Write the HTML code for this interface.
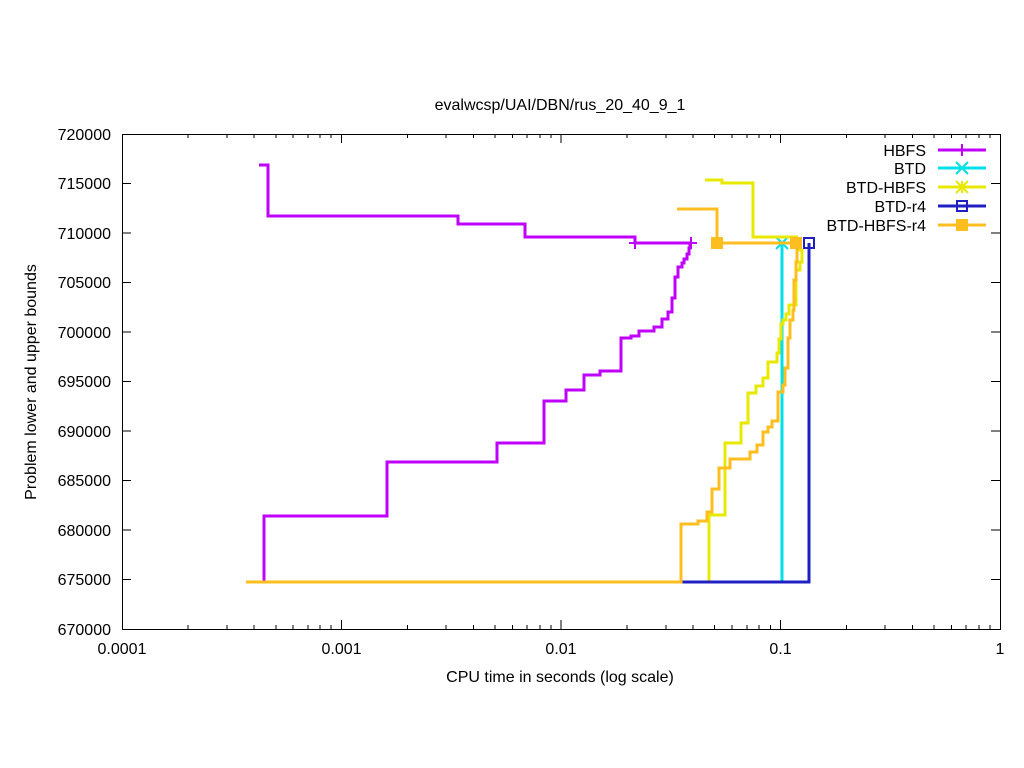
<!DOCTYPE html><html><head><style>body{margin:0;background:#fff}svg{display:block}text{font-family:"Liberation Sans",sans-serif;font-size:16px;fill:#000}</style></head><body>
<svg width="1024" height="768" xmlns="http://www.w3.org/2000/svg">
<rect width="1024" height="768" fill="#fff"/>
<text x="560" y="110" text-anchor="middle">evalwcsp/UAI/DBN/rus_20_40_9_1</text>
<g stroke="#000" stroke-width="1" fill="none">
<rect x="122.5" y="134.5" width="878" height="495"/>
<path d="M122,183.5h9M122,233h9M122,282.5h9M122,332h9M122,381.5h9M122,431h9M122,480.5h9M122,530h9M122,579.5h9M1000,183.5h-9M1000,233h-9M1000,282.5h-9M1000,332h-9M1000,381.5h-9M1000,431h-9M1000,480.5h-9M1000,530h-9M1000,579.5h-9"/>
<path d="M341.5,629v-9M561,629v-9M780.5,629v-9M341.5,134v9M561,134v9M780.5,134v9
M188,629v-4M227,629v-4M254,629v-4M276,629v-4M293,629v-4M308,629v-4M320,629v-4M331,629v-4
M407.5,629v-4M446,629v-4M473.5,629v-4M495,629v-4M512.5,629v-4M527,629v-4M540,629v-4M551,629v-4
M627,629v-4M666,629v-4M693,629v-4M714.5,629v-4M732,629v-4M747,629v-4M759,629v-4M770.5,629v-4
M846.5,629v-4M885,629v-4M912.5,629v-4M934,629v-4M951.5,629v-4M966,629v-4M979,629v-4M990,629v-4
M188,134v4M227,134v4M254,134v4M276,134v4M293,134v4M308,134v4M320,134v4M331,134v4
M407.5,134v4M446,134v4M473.5,134v4M495,134v4M512.5,134v4M527,134v4M540,134v4M551,134v4
M627,134v4M666,134v4M693,134v4M714.5,134v4M732,134v4M747,134v4M759,134v4M770.5,134v4
M846.5,134v4M885,134v4M912.5,134v4M934,134v4M951.5,134v4M966,134v4M979,134v4M990,134v4"/>
</g>
<g text-anchor="end">
<text x="111" y="140">720000</text><text x="111" y="189">715000</text><text x="111" y="239">710000</text><text x="111" y="288">705000</text><text x="111" y="338">700000</text><text x="111" y="387">695000</text><text x="111" y="437">690000</text><text x="111" y="486">685000</text><text x="111" y="536">680000</text><text x="111" y="585">675000</text><text x="111" y="635">670000</text>
</g>
<g text-anchor="middle">
<text x="122" y="654">0.0001</text><text x="341.5" y="654">0.001</text><text x="561" y="654">0.01</text><text x="780.5" y="654">0.1</text><text x="1000" y="654">1</text>
<text x="560" y="682">CPU time in seconds (log scale)</text>
</g>
<text transform="translate(36,382) rotate(-90)" text-anchor="middle">Problem lower and upper bounds</text>
<g fill="none" stroke-width="3">
<path stroke="#c000ff" d="M259,165H268V216H458V224H525V237H635V243H692"/>
<path stroke="#c000ff" d="M264,582V516H387V462H497V443H544V401H566V390H584V375H600V371H621V338H631V336H639V331H654V327H662V319H668V312H672V298H675V277H678V267H682V263H684V259H687V254H689V248H690V243"/>
<path stroke="#c000ff" stroke-width="2" d="M629,243h12M635,237v12M685,243h12M691,237v12"/>
<path stroke="#00e0e8" d="M782,582V243"/>
<path stroke="#00e0e8" stroke-width="2" d="M776,237l12,12M776,249l12,-12"/>
<path stroke="#e8e800" d="M705,180H722V183H753V237H798"/>
<path stroke="#e8e800" d="M709,582V515H725V443H741V423H748V393H756V386H763V378H768V362H777V353H779V339H781V324H783V320H786V314H789V305H796V270H800V262H802V250H800V243"/>
<path stroke="#2020c0" d="M681,582H809V243"/>
<rect x="804" y="238" width="10" height="10" stroke="#2020c0" stroke-width="2"/>
<path stroke="#ffbe20" d="M677,209H717V243H797"/>
<path stroke="#ffbe20" d="M246,582H681V524H698V521H707V512H712V489H719V468H730V459H750V452H757V445H763V432H768V427H772V421H778V392H783V385H785V368H788V338H790V320H793V310H794V280H796V262H797V243"/>
</g>
<rect x="711" y="237" width="12" height="12" fill="#ffbe20"/>
<rect x="790" y="237" width="12" height="12" fill="#ffbe20"/>
<g text-anchor="end">
<text x="926" y="156">HBFS</text><text x="926" y="174">BTD</text><text x="926" y="193">BTD-HBFS</text><text x="926" y="212">BTD-r4</text><text x="926" y="231">BTD-HBFS-r4</text>
</g>
<g fill="none" stroke-width="3">
<path stroke="#c000ff" d="M938,150h48"/><path stroke="#c000ff" stroke-width="2" d="M956,150h12M962,144v12"/>
<path stroke="#00e0e8" d="M938,168h48"/><path stroke="#00e0e8" stroke-width="2" d="M956,162l12,12M956,174l12,-12"/>
<path stroke="#e8e800" d="M938,187h48"/><path stroke="#e8e800" stroke-width="2" d="M956,181l12,12M956,193l12,-12M956,187h12M962,181v12"/>
<path stroke="#2020c0" d="M938,206h48"/><rect x="957" y="201" width="10" height="10" stroke="#2020c0" stroke-width="2"/>
<path stroke="#ffbe20" d="M938,225h48"/>
</g>
<rect x="956" y="219" width="12" height="12" fill="#ffbe20"/>
</svg></body></html>
